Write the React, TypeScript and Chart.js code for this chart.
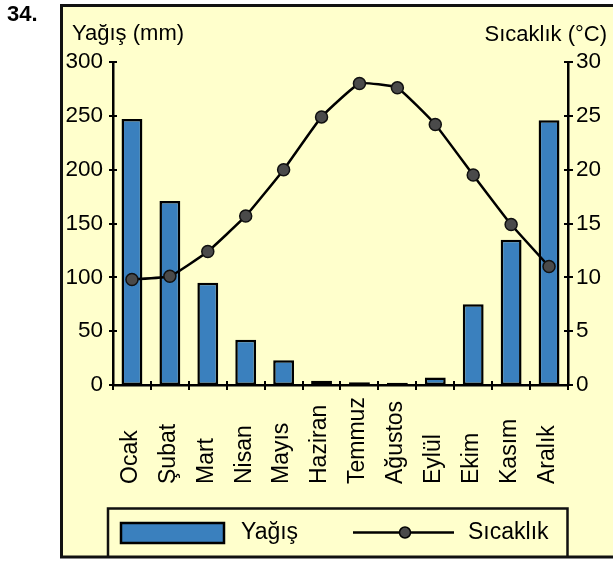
import React, { useEffect, useRef } from "react";
import { Chart, registerables } from "chart.js";

Chart.register(...registerables);

const months = ["Ocak", "Şubat", "Mart", "Nisan", "Mayıs", "Haziran", "Temmuz", "Ağustos", "Eylül", "Ekim", "Kasım", "Aralık"];
const precipitation = [247, 171, 95, 42, 23, 4, 2.5, 2, 7, 75, 135, 246];
const temperature = [9.8, 10.1, 12.4, 15.7, 20.0, 24.9, 28.0, 27.6, 24.2, 19.5, 14.9, 11.0];
const precipTicks = [0, 50, 100, 150, 200, 250, 300];
const tempTicks = [0, 5, 10, 15, 20, 25, 30];

const leftTitle = "Yağış (mm)";
const rightTitle = "Sıcaklık (°C)";
const precipLabel = "Yağış";
const tempLabel = "Sıcaklık";
const questionNo = "34.";

const FONT = '"Liberation Sans", Arial, sans-serif';
const BLUE = "#3a80be";
const YELLOW = "#ffffcc";
const DOT = "#4a4a4a";

export default function App() {
  const ref = useRef<HTMLCanvasElement | null>(null);

  useEffect(() => {
    document.body.style.margin = "0";
    const canvas = ref.current;
    if (!canvas) return;

    const decor = {
      id: "decor",
      beforeDraw(chart: any) {
        const ctx = chart.ctx;
        ctx.save();
        ctx.fillStyle = "#ffffff";
        ctx.fillRect(0, 0, chart.width, chart.height);
        ctx.fillStyle = YELLOW;
        ctx.fillRect(61.5, 5.5, 560, 551.5);
        ctx.lineWidth = 3;
        ctx.strokeStyle = "#111";
        ctx.strokeRect(61.5, 5.5, 560, 551.5);
        ctx.fillStyle = "#000";
        ctx.font = "bold 22px " + FONT;
        ctx.textBaseline = "alphabetic";
        ctx.textAlign = "left";
        ctx.fillText(questionNo, 7, 21);
        ctx.restore();
      },
      afterDraw(chart: any) {
        const ctx = chart.ctx;
        const xs = chart.scales.x;
        const yl = chart.scales.y;
        const yr = chart.scales.y1;
        const area = chart.chartArea;
        ctx.save();
        ctx.strokeStyle = "#000";
        ctx.lineWidth = 2;
        precipTicks.forEach((v) => {
          const y = Math.round(yl.getPixelForValue(v));
          ctx.beginPath();
          ctx.moveTo(area.left - 4, y);
          ctx.lineTo(area.left + 4, y);
          ctx.stroke();
        });
        tempTicks.forEach((v) => {
          const y = Math.round(yr.getPixelForValue(v));
          ctx.beginPath();
          ctx.moveTo(area.right - 4, y);
          ctx.lineTo(area.right + 5, y);
          ctx.stroke();
        });
        const p0 = xs.getPixelForValue(0);
        const step = xs.getPixelForValue(1) - p0;
        for (let i = 0; i <= months.length; i++) {
          const x = Math.round(p0 - step / 2 + i * step);
          ctx.beginPath();
          ctx.moveTo(x, area.bottom - 4);
          ctx.lineTo(x, area.bottom + 5);
          ctx.stroke();
        }
        ctx.fillStyle = "#000";
        ctx.font = "23px " + FONT;
        months.forEach((m, i) => {
          const x = xs.getPixelForValue(i) - 1.5;
          ctx.save();
          ctx.translate(x, 484);
          ctx.rotate(-Math.PI / 2);
          ctx.textAlign = "left";
          ctx.textBaseline = "middle";
          ctx.fillText(m, 0, 0);
          ctx.restore();
        });
        ctx.font = "22px " + FONT;
        ctx.textBaseline = "alphabetic";
        ctx.textAlign = "left";
        ctx.fillText(leftTitle, 72, 40);
        ctx.textAlign = "right";
        ctx.fillText(rightTitle, 607, 41);
        ctx.lineWidth = 2.5;
        ctx.strokeStyle = "#111";
        ctx.beginPath();
        ctx.moveTo(108, 558);
        ctx.lineTo(108, 508.5);
        ctx.lineTo(567.5, 508.5);
        ctx.lineTo(567.5, 558);
        ctx.stroke();
        ctx.fillStyle = BLUE;
        ctx.fillRect(121, 523, 103, 20);
        ctx.strokeStyle = "#000";
        ctx.lineWidth = 2.5;
        ctx.strokeRect(121, 523, 103, 20);
        ctx.fillStyle = "#000";
        ctx.font = "23px " + FONT;
        ctx.textAlign = "left";
        ctx.textBaseline = "middle";
        ctx.fillText(precipLabel, 241, 533);
        ctx.lineWidth = 2.5;
        ctx.beginPath();
        ctx.moveTo(353, 532.5);
        ctx.lineTo(454, 532.5);
        ctx.stroke();
        ctx.beginPath();
        ctx.arc(405, 532.5, 5.5, 0, Math.PI * 2);
        ctx.fillStyle = DOT;
        ctx.fill();
        ctx.lineWidth = 1.5;
        ctx.stroke();
        ctx.fillStyle = "#000";
        ctx.fillText(tempLabel, 468, 533);
        ctx.restore();
      },
    };

    const chart = new Chart(canvas, {
      type: "bar",
      data: {
        labels: months,
        datasets: [
          {
            type: "line",
            label: tempLabel,
            data: temperature,
            yAxisID: "y1",
            borderColor: "#000",
            borderWidth: 2.5,
            tension: 0.12,
            pointRadius: 6,
            pointBackgroundColor: DOT,
            pointBorderColor: "#111",
            pointBorderWidth: 1.5,
            order: 0,
          } as any,
          {
            type: "bar",
            label: precipLabel,
            data: precipitation,
            yAxisID: "y",
            backgroundColor: BLUE,
            borderColor: "#000",
            borderWidth: 2.5,
            borderSkipped: false,
            categoryPercentage: 1,
            barPercentage: 0.55,
            order: 1,
          } as any,
        ],
      },
      options: {
        responsive: false,
        animation: false,
        devicePixelRatio: 1,
        layout: { padding: { top: 62, left: 0, right: 0, bottom: 0 } },
        plugins: { legend: { display: false }, tooltip: { enabled: false }, title: { display: false } },
        scales: {
          x: {
            type: "category",
            offset: true,
            grid: { display: false, drawTicks: false },
            border: { display: true, color: "#000", width: 2.5 },
            ticks: { display: false },
            afterFit: (s: any) => {
              s.height = 176;
            },
          },
          y: {
            type: "linear",
            position: "left",
            min: precipTicks[0],
            max: precipTicks[precipTicks.length - 1],
            grid: { display: false, drawTicks: false },
            border: { display: true, color: "#000", width: 2.5 },
            ticks: {
              stepSize: precipTicks[1] - precipTicks[0],
              color: "#000",
              padding: 10,
              font: { family: FONT, size: 22.5 },
            },
            afterFit: (s: any) => {
              s.width = 113;
            },
          },
          y1: {
            type: "linear",
            position: "right",
            min: tempTicks[0],
            max: tempTicks[tempTicks.length - 1],
            grid: { display: false, drawTicks: false },
            border: { display: true, color: "#000", width: 2.5 },
            ticks: {
              stepSize: tempTicks[1] - tempTicks[0],
              color: "#000",
              padding: 8,
              font: { family: FONT, size: 22.5 },
            },
            afterFit: (s: any) => {
              s.width = 45;
            },
          },
        },
      },
      plugins: [decor],
    });

    return () => chart.destroy();
  }, []);

  return (
    <div style={{ width: 613, height: 561 }}>
      <canvas ref={ref} width={613} height={561} style={{ display: "block", width: 613, height: 561 }} />
    </div>
  );
}
